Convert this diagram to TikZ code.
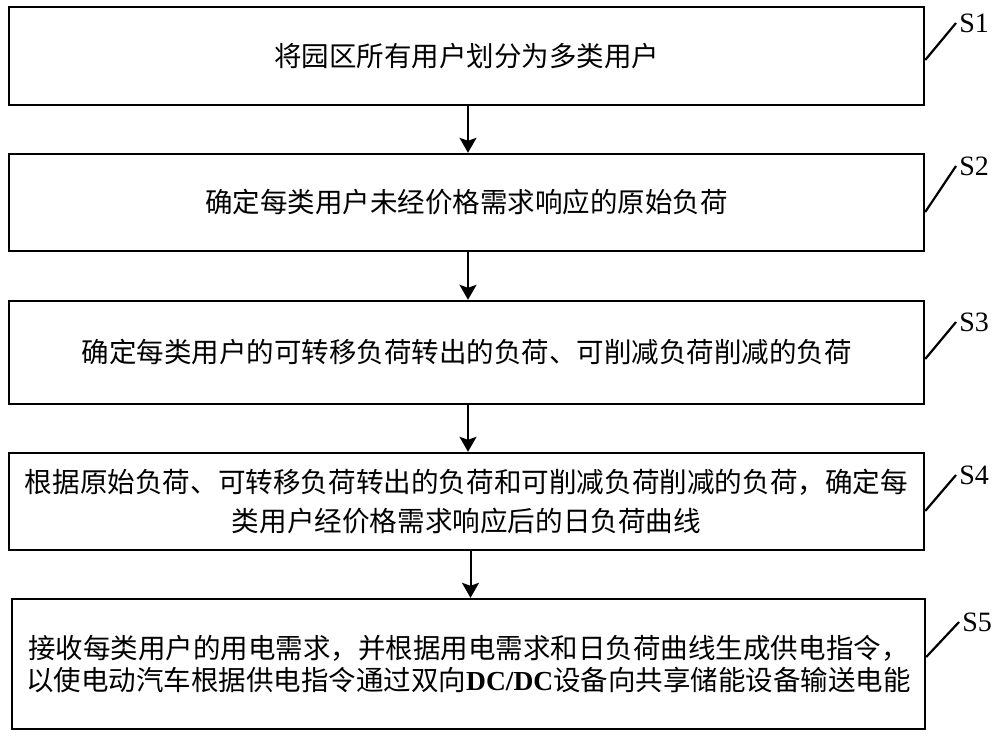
\documentclass[tikz,border=0pt]{standalone}
\usepackage{fontspec}
\setmainfont{Liberation Serif}
\newfontfamily\cjk{Noto Sans CJK SC}
\usetikzlibrary{arrows.meta}
\begin{document}
\begin{tikzpicture}[x=0.5pt,y=-0.5pt,
  box/.style={draw, line width=1.2pt, minimum width=457.5pt, inner sep=0pt, align=center,
              font=\cjk\fontsize{13.75pt}{17pt}\selectfont},
  flow/.style={line width=1pt, -{Stealth[length=7.5pt,width=8.5pt,inset=1.5pt]}},
  leader/.style={line width=1.1pt},
  tag/.style={anchor=west, inner sep=1.5pt, font=\fontsize{14pt}{16pt}\selectfont}]
\useasboundingbox (0,0) rectangle (1000,738);

\node[box, minimum height=49pt] (b1) at (466.5,56) {将园区所有用户划分为多类用户};
\node[box, minimum height=48.5pt] (b2) at (466.5,202.5) {确定每类用户未经价格需求响应的原始负荷};
\node[box, minimum height=51.5pt] (b3) at (466.5,352.5) {确定每类用户的可转移负荷转出的负荷、可削减负荷削减的负荷};
\node[box, minimum height=48.5pt, font=\cjk\fontsize{13.8pt}{19.5pt}\selectfont] (b4) at (466.5,501.5)
  {根据原始负荷、可转移负荷转出的负荷和可削减负荷削减的负荷，确定每\\类用户经价格需求响应后的日负荷曲线};
\node[box, minimum width=456.5pt, minimum height=65pt, font=\cjk\fontsize{13.75pt}{16pt}\selectfont] (b5) at (468.5,664)
  {接收每类用户的用电需求，并根据用电需求和日负荷曲线生成供电指令，\\以使电动汽车根据供电指令通过双向{\rmfamily\bfseries DC/DC}设备向共享储能设备输送电能};

\draw[flow] ([xshift=0.75pt]b1.south) -- ([xshift=0.75pt]b2.north);
\draw[flow] ([xshift=0.75pt]b2.south) -- ([xshift=0.75pt]b3.north);
\draw[flow] ([xshift=0.75pt]b3.south) -- ([xshift=0.75pt]b4.north);
\draw[flow] ([xshift=2pt]b4.south) -- ([xshift=2pt]b4.south |- b5.north);

\node[tag] (s1) at (956,23) {S1};
\node[tag] (s2) at (956,166) {S2};
\node[tag] (s3) at (956,322) {S3};
\node[tag] (s4) at (956,475) {S4};
\node[tag] (s5) at (959,622) {S5};

\draw[leader] ([yshift=-2pt]b1.east) -- (s1.west);
\draw[leader] ([yshift=-4.75pt]b2.east) -- (s2.west);
\draw[leader] ([yshift=-3.25pt]b3.east) -- (s3.west);
\draw[leader] ([yshift=-4.75pt]b4.east) -- (s4.west);
\draw[leader] ([yshift=3.5pt]b5.east) -- (s5.west);
\end{tikzpicture}
\end{document}
